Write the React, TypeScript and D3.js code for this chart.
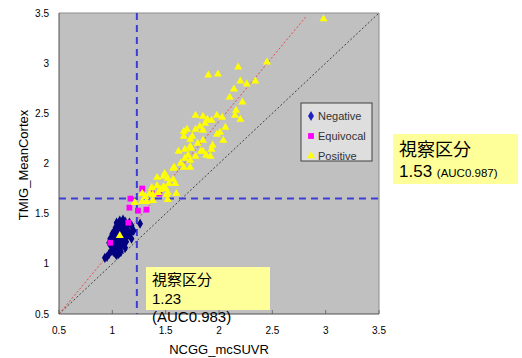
import React from "react";
import * as d3 from "d3";

const xTicks = [0.5, 1, 1.5, 2, 2.5, 3, 3.5];
const yTicks = [0.5, 1, 1.5, 2, 2.5, 3, 3.5];
const xCut = 1.23;
const yCut = 1.65;
const regSlope = 1.28;
const regEndX = 2.82;

const negative: [number, number][] = [
  [0.93, 1.06], [0.95, 1.07], [0.97, 1.1], [0.99, 1.13], [1.01, 1.12], [1.03, 1.1], [1.04, 1.09],
  [1.05, 1.12], [1.02, 1.15], [1.0, 1.17], [0.98, 1.19], [0.99, 1.22], [1.01, 1.2], [1.03, 1.18],
  [1.05, 1.16], [1.07, 1.14], [1.08, 1.17], [1.06, 1.2], [1.04, 1.22], [1.02, 1.24], [1.0, 1.26],
  [0.98, 1.25], [1.01, 1.29], [1.03, 1.27], [1.05, 1.25], [1.07, 1.23], [1.09, 1.21], [1.11, 1.19],
  [1.1, 1.24], [1.08, 1.27], [1.06, 1.29], [1.04, 1.31], [1.02, 1.33], [1.05, 1.35], [1.07, 1.33],
  [1.09, 1.3], [1.11, 1.28], [1.13, 1.26], [1.12, 1.31], [1.1, 1.34], [1.08, 1.37], [1.06, 1.39],
  [1.04, 1.41], [1.07, 1.43], [1.09, 1.4], [1.11, 1.38], [1.13, 1.35], [1.15, 1.33], [1.14, 1.38],
  [1.12, 1.42], [1.1, 1.44], [1.16, 1.41], [1.18, 1.38], [1.2, 1.33], [1.17, 1.3], [1.26, 1.4],
  [1.15, 1.29], [1.13, 1.22], [1.06, 1.1], [1.08, 1.12], [1.18, 1.25], [1.03, 1.36], [1.0, 1.3],
  [1.12, 1.16], [0.97, 1.21], [1.14, 1.31], [1.09, 1.35],
];

const equivocal: [number, number][] = [
  [1.28, 1.75], [1.37, 1.7], [1.44, 1.7], [1.17, 1.65], [1.16, 1.56], [1.24, 1.53], [1.32, 1.54],
  [1.15, 1.41], [0.98, 1.21],
];

const positive: [number, number][] = [
  [2.98, 3.44], [2.45, 3.01], [2.18, 2.96], [1.9, 2.88], [1.99, 2.89], [2.2, 2.82], [2.26, 2.79],
  [2.34, 2.82], [2.14, 2.74], [2.1, 2.66], [2.22, 2.61], [2.16, 2.53], [2.15, 2.48], [2.2, 2.44],
  [1.98, 2.48], [2.03, 2.46], [1.78, 2.48], [1.85, 2.47], [1.89, 2.44], [1.93, 2.43], [1.87, 2.4],
  [1.7, 2.34], [1.67, 2.32], [1.78, 2.34], [1.82, 2.37], [1.85, 2.33], [2.06, 2.36], [2.01, 2.31],
  [1.98, 2.29], [1.67, 2.27], [1.75, 2.27], [1.73, 2.24], [1.85, 2.23], [2.04, 2.23], [1.73, 2.17],
  [1.74, 2.15], [1.68, 2.14], [1.62, 2.12], [1.94, 2.18], [1.93, 2.14], [1.85, 2.12], [1.92, 2.07],
  [1.68, 2.05], [1.73, 2.03], [1.78, 2.07], [1.71, 2.08], [1.58, 1.96], [1.67, 1.96], [1.73, 1.96],
  [1.83, 2.12], [1.88, 2.08], [1.57, 1.95], [1.49, 1.9], [1.52, 1.85], [1.57, 1.84], [1.53, 1.8],
  [1.59, 1.8], [1.42, 1.78], [1.37, 1.76], [1.48, 1.77], [1.45, 1.74], [1.43, 1.71], [1.6, 1.7],
  [1.52, 1.71], [1.35, 1.7], [1.31, 1.67], [1.38, 1.69], [1.32, 1.62], [1.28, 1.62], [1.52, 1.64],
  [1.42, 1.86], [1.48, 1.87], [1.5, 1.75], [1.28, 1.7], [1.21, 1.61], [1.38, 1.63], [1.51, 1.69],
  [1.07, 1.28], [1.64, 2.0], [1.8, 2.2],
];

const legendItems = ["Negative", "Equivocal", "Positive"];

const W = 522;
const H = 358;
const left = 59, right = 379, top = 13, bottom = 314;

export default function App() {
  const x = d3.scaleLinear().domain([0.5, 3.5]).range([left, right]);
  const y = d3.scaleLinear().domain([0.5, 3.5]).range([bottom, top]);
  const sym = (t: d3.SymbolType, s: number) => d3.symbol().type(t).size(s)() as string;
  const diamond = sym(d3.symbolDiamond, 30);
  const square = sym(d3.symbolSquare, 34);
  const triangle = sym(d3.symbolTriangle, 28);
  const font = "'Liberation Sans', Arial, sans-serif";
  const cjk = "'Noto Sans CJK JP', sans-serif";

  return (
    <svg width={W} height={H} style={{ position: "absolute", left: 0, top: 0, background: "#fff" }}>
      <rect x={left} y={top} width={right - left} height={bottom - top} fill="#c0c0c0" />
      <line x1={left} x2={right} y1={top} y2={top} stroke="#8c8c8c" />
      <line x1={right} x2={right} y1={top} y2={bottom} stroke="#8c8c8c" />
      {xTicks.map((t) => (
        <line key={"xt" + t} x1={x(t)} x2={x(t)} y1={bottom} y2={bottom - 4} stroke="#707070" />
      ))}
      <line x1={x(0.5)} y1={y(0.5)} x2={x(3.5)} y2={y(3.5)} stroke="#404040" strokeWidth={1} strokeDasharray="2,2" />
      <line x1={x(0.5)} y1={y(0.5)} x2={x(regEndX)} y2={y(0.5 + regSlope * (regEndX - 0.5))} stroke="#e84848" strokeWidth={1} strokeDasharray="2,2" />
      <line x1={x(xCut)} x2={x(xCut)} y1={top} y2={bottom} stroke="#3c3cd8" strokeWidth={2} strokeDasharray="7,5" />
      <line x1={left} x2={right} y1={y(yCut)} y2={y(yCut)} stroke="#3c3cd8" strokeWidth={2} strokeDasharray="7,5" />
      {negative.map((d, i) => (
        <path key={"n" + i} d={diamond} transform={`translate(${x(d[0])},${y(d[1])})`} fill="#000080" />
      ))}
      {equivocal.map((d, i) => (
        <path key={"e" + i} d={square} transform={`translate(${x(d[0])},${y(d[1])})`} fill="#ff00ff" />
      ))}
      {positive.map((d, i) => (
        <path key={"p" + i} d={triangle} transform={`translate(${x(d[0])},${y(d[1])})`} fill="#ffff00" />
      ))}
      <line x1={left} x2={left} y1={top} y2={bottom} stroke="#505050" />
      <line x1={left} x2={right} y1={bottom} y2={bottom} stroke="#505050" />
      {yTicks.map((t) => (
        <text key={"yl" + t} x={49} y={y(t)} dy="0.35em" textAnchor="end" fontFamily={font} fontSize={10} fill="#000">
          {String(t)}
        </text>
      ))}
      {xTicks.map((t) => (
        <text key={"xl" + t} x={x(t)} y={334} textAnchor="middle" fontFamily={font} fontSize={10} fill="#000">
          {String(t)}
        </text>
      ))}
      <text x={219} y={354} textAnchor="middle" fontFamily={font} fontSize={13} fill="#000">NCGG_mcSUVR</text>
      <text transform={`translate(28,${165}) rotate(-90)`} textAnchor="middle" fontFamily={font} fontSize={13} fill="#000">TMIG_MeanCortex</text>
      <rect x={301} y={103} width={71} height={58} fill="#dedede" stroke="#404040" strokeWidth={1} />
      {legendItems.map((name, i) => {
        const cy = 116 + i * 20;
        const shape = i === 0 ? diamond : i === 1 ? square : triangle;
        const col = i === 0 ? "#2020c0" : i === 1 ? "#ff00ff" : "#ffff00";
        return (
          <g key={name}>
            <path d={shape} transform={`translate(311,${cy})`} fill={col} />
            <text x={318} y={cy + 4} fontFamily={font} fontSize={11} fill="#333">{name}</text>
          </g>
        );
      })}
      <rect x={393} y={134} width={125} height={50} fill="#ffff99" />
      <text x={399} y={156} fontFamily={cjk} fontSize={18} fill="#000">視察区分</text>
      <text x={399} y={177} fontFamily={font} fill="#000">
        <tspan fontSize={17}>1.53 </tspan>
        <tspan fontSize={11.5}>(AUC0.987)</tspan>
      </text>
      <rect x={146} y={267} width={124} height={43} fill="#ffff99" />
      <text x={152} y={285} fontFamily={cjk} fontSize={15} fill="#000">視察区分</text>
      <text x={152} y={304} fontFamily={font} fontSize={15} fill="#000">1.23</text>
      <text x={152} y={322} fontFamily={font} fontSize={15} fill="#000">(AUC0.983)</text>
    </svg>
  );
}
